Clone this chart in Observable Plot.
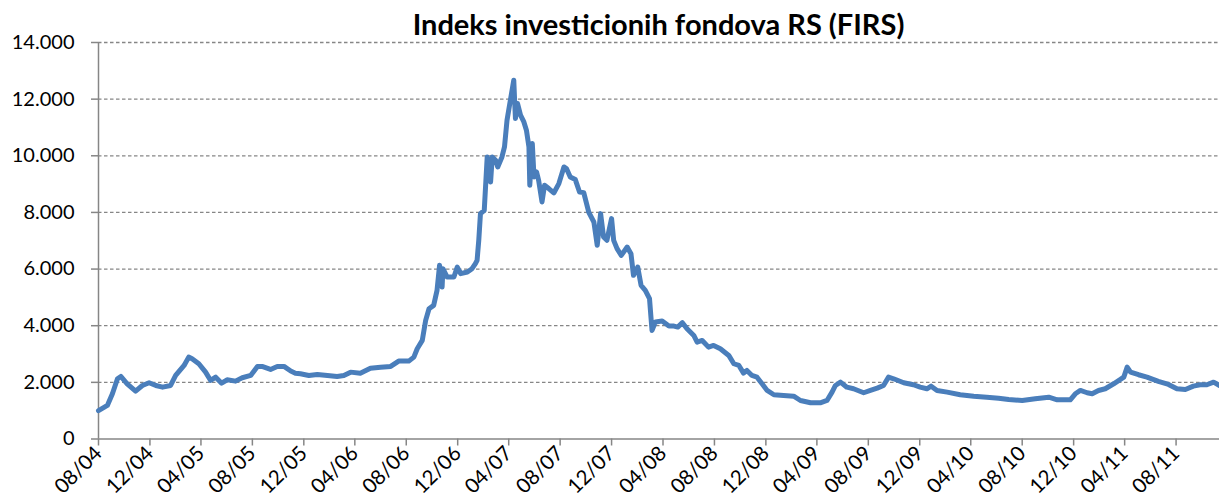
<!DOCTYPE html>
<html>
<head>
<meta charset="utf-8">
<script src="https://cdn.jsdelivr.net/npm/d3@7"></script>
<script src="https://cdn.jsdelivr.net/npm/@observablehq/plot@0.6"></script>
<style>
  html, body { margin: 0; padding: 0; background: #fff; }
  #wrap { width: 1219px; height: 502px; overflow: hidden; font-family: Lato, "Open Sans", sans-serif; }
  #title { box-sizing: border-box; height: 36px; padding-top: 11px; padding-left: 98px; width: 1219px;
           text-align: center; font-weight: bold; font-size: 29px; line-height: 26px; color: #000; white-space: nowrap; }
  #chart svg { overflow: visible; display: block; }
</style>
</head>
<body>
<div id="wrap">
  <div id="title">Indeks investicionih fondova RS (FIRS)</div>
  <div id="chart"></div>
</div>
<script>
const titleText = "Indeks investicionih fondova RS (FIRS)";

const dates = [
"2004-08-01","2004-08-22","2004-09-03","2004-09-15","2004-09-23","2004-10-08","2004-10-28","2004-11-13","2004-11-29","2004-12-15",
"2004-12-31","2005-01-19","2005-01-31","2005-02-20","2005-03-03","2005-03-11","2005-03-27","2005-04-12","2005-04-24","2005-05-06",
"2005-05-20","2005-06-02","2005-06-22","2005-07-08","2005-07-28","2005-08-13","2005-08-24","2005-09-13","2005-09-29","2005-10-15",
"2005-10-31","2005-11-11","2005-11-23","2005-12-13","2006-01-02","2006-01-26","2006-02-18","2006-03-06","2006-03-22","2006-04-14",
"2006-05-08","2006-06-01","2006-06-25","2006-07-14","2006-08-07","2006-08-19","2006-08-27","2006-09-08","2006-09-16","2006-09-24",
"2006-10-05","2006-10-13","2006-10-19","2006-10-25","2006-10-27","2006-11-06","2006-11-22","2006-11-30","2006-12-08","2006-12-24",
"2007-01-04","2007-01-12","2007-01-16","2007-01-20","2007-01-24","2007-02-02","2007-02-09","2007-02-17","2007-02-21","2007-03-01",
"2007-03-06","2007-03-16","2007-03-22","2007-03-28","2007-04-03","2007-04-09","2007-04-13","2007-04-15","2007-04-17","2007-04-22",
"2007-04-29","2007-05-07","2007-05-13","2007-05-19","2007-05-21","2007-05-27","2007-05-31","2007-06-06","2007-06-11","2007-06-19",
"2007-06-25","2007-07-05","2007-07-17","2007-07-29","2007-08-10","2007-08-16","2007-08-25","2007-09-06","2007-09-16","2007-09-26",
"2007-10-08","2007-10-20","2007-10-28","2007-11-05","2007-11-12","2007-11-20","2007-12-01","2007-12-06","2007-12-14","2007-12-24",
"2008-01-07","2008-01-16","2008-01-22","2008-02-01","2008-02-09","2008-02-19","2008-02-29","2008-03-04","2008-03-06","2008-03-14",
"2008-03-30","2008-04-15","2008-04-27","2008-05-06","2008-05-17","2008-05-28","2008-06-13","2008-06-21","2008-07-03","2008-07-18",
"2008-07-30","2008-08-15","2008-09-04","2008-09-16","2008-09-28","2008-10-09","2008-10-17","2008-10-29","2008-11-10","2008-11-22",
"2008-12-04","2008-12-20","2009-01-12","2009-02-05","2009-02-21","2009-03-17","2009-04-09","2009-04-25","2009-05-07","2009-05-15",
"2009-05-27","2009-06-11","2009-06-27","2009-07-21","2009-08-06","2009-08-22","2009-09-06","2009-09-18","2009-09-30","2009-10-24",
"2009-11-16","2009-12-02","2009-12-18","2009-12-28","2010-01-11","2010-02-04","2010-03-07","2010-04-08","2010-05-09","2010-06-06",
"2010-06-30","2010-08-01","2010-09-01","2010-10-03","2010-10-23","2010-11-23","2010-12-05","2010-12-17","2011-01-02","2011-01-14",
"2011-01-29","2011-02-14","2011-03-06","2011-03-22","2011-03-30","2011-04-07","2011-04-15","2011-05-04","2011-05-24","2011-06-20",
"2011-07-14","2011-08-03","2011-08-23","2011-09-11","2011-09-27","2011-10-13","2011-10-29","2011-11-12"
];
const values = [
1000,1184,1597,2127,2209,1950,1690,1890,1986,1890,
1830,1890,2244,2597,2891,2834,2657,2361,2067,2184,
1972,2092,2043,2163,2244,2562,2562,2456,2562,2562,
2400,2325,2304,2244,2279,2244,2209,2244,2361,2325,
2502,2537,2562,2750,2750,2891,3188,3481,4188,4601,
4718,5248,6131,5365,6015,5718,5718,6072,5838,5895,
6015,6192,6308,7015,7958,8075,9959,9075,9959,9842,
9606,9959,10312,11256,11786,12316,12669,11963,11316,11846,
11433,11196,10902,10312,8959,10432,9252,9429,9135,8369,
8959,8842,8687,9019,9606,9549,9252,9160,8722,8700,
8000,7662,6838,7958,7132,7015,7782,7015,6722,6485,
6778,6545,5778,6072,5425,5248,4955,4188,3834,4128,
4163,3986,3986,3951,4107,3894,3657,3421,3481,3244,
3304,3188,2951,2657,2597,2325,2421,2244,2184,1950,
1714,1562,1537,1513,1360,1279,1279,1360,1654,1890,
2007,1830,1774,1633,1714,1795,1890,2184,2127,1986,
1915,1830,1774,1866,1714,1654,1562,1513,1477,1442,
1396,1360,1421,1477,1385,1385,1597,1714,1633,1597,
1714,1774,1950,2103,2184,2537,2361,2269,2184,2032,
1926,1774,1749,1866,1915,1915,2007,1890
];

const xTicks = [
"2004-08-01","2004-12-01","2005-04-01","2005-08-01","2005-12-01","2006-04-01","2006-08-01","2006-12-01",
"2007-04-01","2007-08-01","2007-12-01","2008-04-01","2008-08-01","2008-12-01","2009-04-01","2009-08-01",
"2009-12-01","2010-04-01","2010-08-01","2010-12-01","2011-04-01","2011-08-01"
];
const xDomain = ["2004-08-01", "2011-11-12"];
const yTicks = [0, 2000, 4000, 6000, 8000, 10000, 12000, 14000];
const gridTicks = [2000, 4000, 6000, 8000, 10000, 12000, 14000];

const data = dates.map((d, i) => ({date: new Date(d + "T00:00:00Z"), value: values[i]}));
const xTickDates = xTicks.map(d => new Date(d + "T00:00:00Z"));
const xDom = xDomain.map(d => new Date(d + "T00:00:00Z"));

const fmtNum = d3.formatLocale({decimal: ",", thousands: ".", grouping: [3], currency: ["", ""]}).format(",.0f");
const fmtDate = d3.utcFormat("%m/%y");

const axisColor = "#868686";
const lineColor = "#4a7ebb";

const chart = Plot.plot({
  width: 1219,
  height: 466,
  marginTop: 6,
  marginBottom: 63.5,
  marginLeft: 98,
  marginRight: 0,
  style: {fontFamily: "Lato, 'Open Sans', sans-serif", fontSize: "20px", color: "#000", background: "#fff"},
  x: {type: "utc", domain: xDom},
  y: {domain: [0, 14000]},
  marks: [
    Plot.ruleY(gridTicks, {stroke: axisColor, strokeWidth: 1.3, strokeDasharray: "3.5,2.5"}),
    Plot.axisY({ticks: yTicks, tickFormat: fmtNum, tickSize: 7, tickPadding: 17, stroke: axisColor, strokeWidth: 1.5, fill: "#000", fontSize: 20, label: null}),
    Plot.axisX({ticks: xTickDates, tickFormat: fmtDate, tickSize: 7, tickPadding: 4, tickRotate: -45, stroke: axisColor, strokeWidth: 1.5, fill: "#000", fontSize: 20.5, label: null}),
    Plot.ruleY([0], {stroke: axisColor, strokeWidth: 1.5}),
    Plot.ruleX([xDom[0]], {stroke: axisColor, strokeWidth: 1.5}),
    Plot.line(data, {x: "date", y: "value", stroke: lineColor, strokeWidth: 5, strokeLinejoin: "round", strokeLinecap: "round"})
  ]
});
document.getElementById("chart").appendChild(chart);
</script>
</body>
</html>
